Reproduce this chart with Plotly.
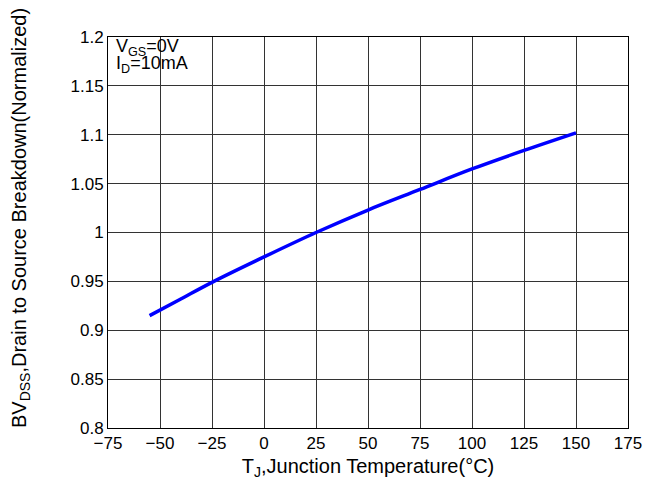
import plotly.graph_objects as go

temp_c = [-55, -40, -25, 0, 25, 50, 75, 100, 125, 150]
bv_norm = [0.915, 0.932, 0.949, 0.975, 1.000, 1.023, 1.044, 1.065, 1.084, 1.102]

x_ticks = [-75, -50, -25, 0, 25, 50, 75, 100, 125, 150, 175]
y_ticks = [0.8, 0.85, 0.9, 0.95, 1.0, 1.05, 1.1, 1.15, 1.2]
y_tick_text = ["0.8", "0.85", "0.9", "0.95", "1", "1.05", "1.1", "1.15", "1.2"]

fig = go.Figure()
fig.add_trace(go.Scatter(x=temp_c, y=bv_norm, mode="lines",
                         line=dict(color="#0000ff", width=3.5, shape="spline"),
                         showlegend=False))

base_font = "Liberation Sans, Arial, sans-serif"
fig.update_layout(
    width=652, height=477,
    margin=dict(l=100, r=32, t=29, b=57),
    paper_bgcolor="white", plot_bgcolor="white",
    font=dict(family=base_font, size=17, color="#000"),
    xaxis=dict(range=[-75, 175], tickvals=x_ticks, showgrid=True, gridcolor="#333", gridwidth=1,
               showline=True, linecolor="#000", linewidth=1, mirror=True, zeroline=False,
               ticks="", title=dict(text="T<sub>J</sub>,Junction Temperature(°C)", standoff=6)),
    yaxis=dict(range=[0.8, 1.2], tickvals=y_ticks, ticktext=y_tick_text, showgrid=True, gridcolor="#333",
               gridwidth=1, showline=True, linecolor="#000", linewidth=1, mirror=True, zeroline=False,
               ticks=""),
)
fig.add_annotation(x=0.0, y=0.537, xref="paper", yref="paper", xanchor="center", yanchor="middle",
                   xshift=-88, textangle=-90, showarrow=False,
                   text="BV<sub>DSS</sub>,Drain to Source Breakdown(Normalized)",
                   font=dict(family=base_font, size=20, color="#000"))
fig.add_annotation(x=0.0, y=1.0, xref="paper", yref="paper", xanchor="left", yanchor="middle",
                   xshift=6, yshift=-10, align="left", showarrow=False,
                   text="V<sub>GS</sub>=0V", font=dict(family=base_font, size=18, color="#000"))
fig.add_annotation(x=0.0, y=1.0, xref="paper", yref="paper", xanchor="left", yanchor="middle",
                   xshift=6, yshift=-27, align="left", showarrow=False,
                   text="I<sub>D</sub>=10mA", font=dict(family=base_font, size=18, color="#000"))
fig.write_html("out.html")
